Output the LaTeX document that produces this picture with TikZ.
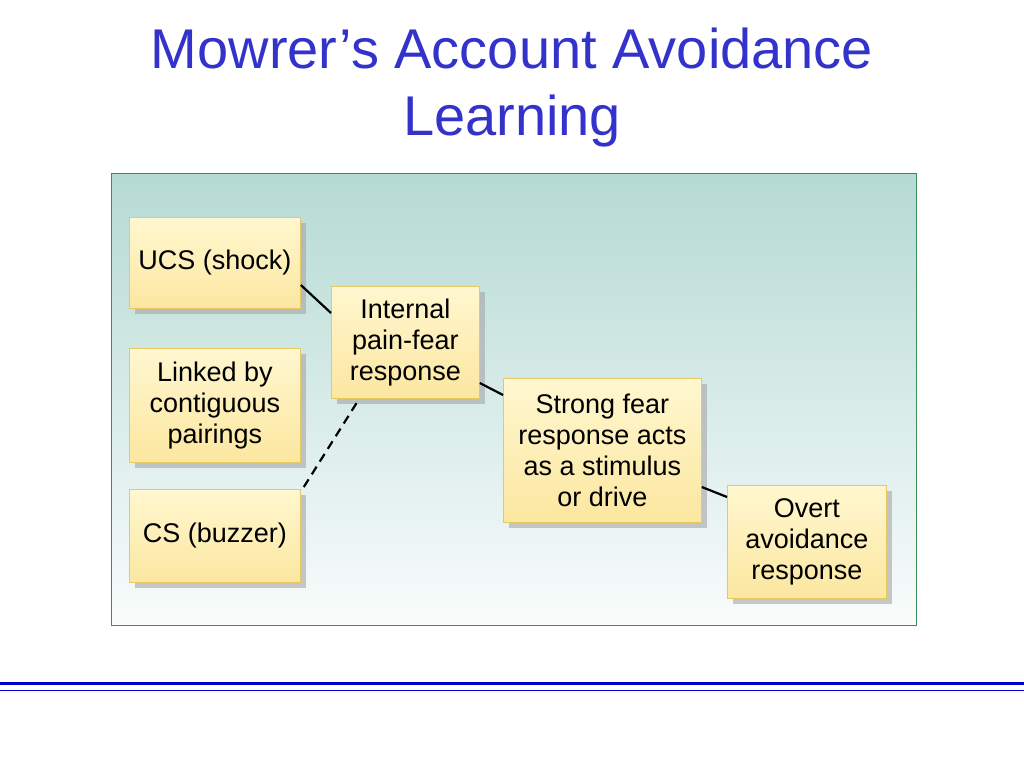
\documentclass[tikz,border=0pt]{standalone}
\usepackage{fontspec}
\setmainfont{Liberation Sans}
\usetikzlibrary{calc}
\definecolor{ttl}{HTML}{3333CC}
\definecolor{pan}{HTML}{B5DAD4}
\definecolor{panb}{HTML}{3C8C5C}
\definecolor{boxt}{HTML}{FFF7D0}
\definecolor{boxb}{HTML}{FCE7A0}
\definecolor{boxe}{HTML}{E8C860}
\tikzset{
  bx/.style={draw=boxe,line width=0.8pt,top color=boxt,bottom color=boxb,align=center,
    font=\fontsize{27}{31}\selectfont,inner sep=0pt,anchor=north west},
  conn/.style={line width=2.2pt,black},
}
\begin{document}
\begin{tikzpicture}[x=1pt,y=-1pt]
\useasboundingbox (0,0) rectangle (1024,768);
\fill[white] (0,0) rectangle (1024,768);
\node[text=ttl,font=\fontsize{56}{67}\selectfont,align=center] (title) at (512,88) {Mowrer’s Account Avoidance\\Learning};
\shade[top color=pan,bottom color=white!92!pan] (111,173) rectangle (916,625);
\draw[panb,line width=1pt] (111,173) rectangle (916,625);
% shadows
\foreach \a/\b/\c/\d in {129/217/300/308,129/348/300/462,129/489/300/582,331/286/479/398,503/378/701/522,727/485/886/598}
  \fill[black!35,opacity=0.6] (\a+6,\b+6) rectangle (\c+6,\d+6);
\node[bx,minimum width=171,minimum height=91] (ucs) at (129,217) {UCS (shock)};
\node[bx,minimum width=171,minimum height=114] (link) at (129,348) {Linked by\\contiguous\\pairings};
\node[bx,minimum width=171,minimum height=93] (cs) at (129,489) {CS (buzzer)};
\node[bx,minimum width=148,minimum height=112] (int) at (331,286) {Internal\\pain-fear\\response};
\node[bx,minimum width=198,minimum height=144] (str) at (503,378) {Strong fear\\response acts\\as a stimulus\\or drive};
\node[bx,minimum width=159,minimum height=113] (ov) at (727,485) {Overt\\avoidance\\response};
\draw[conn] ($(ucs.north east)+(0,68)$) -- ($(int.north west)+(0,27)$);
\draw[conn,dash pattern=on 9pt off 6pt] ($(cs.north east)+(3,-2)$) -- ($(int.south west)+(27,2)$);
\draw[conn] ($(int.north east)+(0,97)$) -- ($(str.north west)+(0,17)$);
\draw[conn] ($(str.north east)+(0,109)$) -- ($(ov.north west)+(0,12)$);
\draw[blue!80!black,line width=3pt] (0,683) -- (1024,683);
\draw[blue!80!black,line width=1pt] (0,690) -- (1024,690);
\end{tikzpicture}
\end{document}
